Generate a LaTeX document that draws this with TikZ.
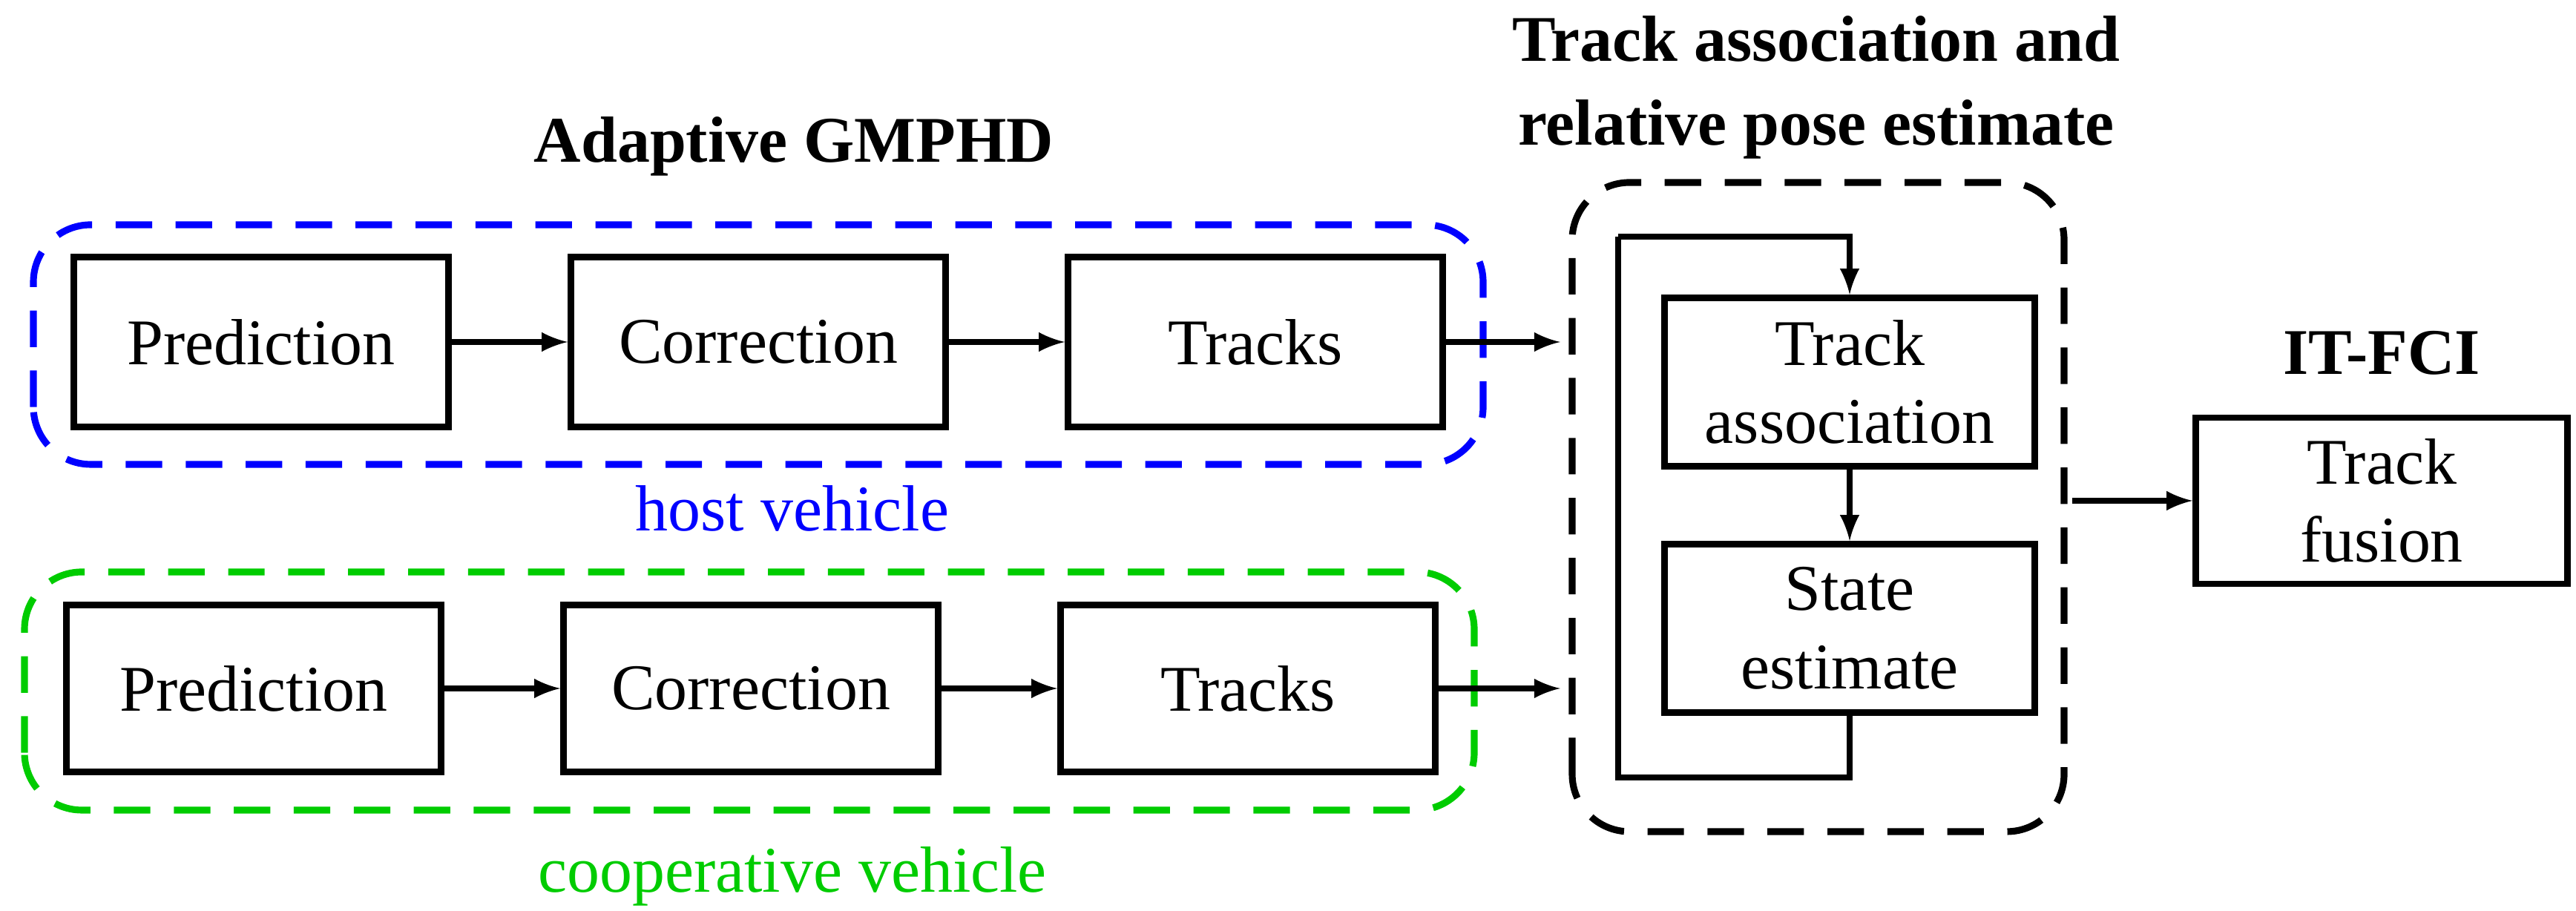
\documentclass[tikz,border=0pt]{standalone}
\usepackage{fontspec}
\setmainfont{Liberation Serif}
\usetikzlibrary{positioning}

\begin{document}
\begin{tikzpicture}[
	block/.style={draw, line width=2.4pt, font=\fontsize{25}{30}\selectfont, align=center, inner sep=0pt},
	flow/.style={line width=2.4pt, -latex},
	group/.style={line width=2.6pt, dash pattern=on 14pt off 9pt, rounded corners=22pt},
	title/.style={font=\fontsize{25}{32}\selectfont\bfseries, align=center}
	]
	
	\useasboundingbox (0,0) rectangle (34.72,12.28);
	
	% Groups
	\draw[group, blue]	(0.45,6.02) rectangle (19.99,9.25);
	\draw[group, green!80!black]	(0.33,1.36) rectangle (19.87,4.57);
	\draw[group]	(21.19,1.07) rectangle (27.82,9.82);
	
	% Host vehicle
	\node[block, minimum width=5.05cm, minimum height=2.29cm] (hpred) at (3.52,7.67) {Prediction};
	\node[block, minimum width=5.05cm, minimum height=2.29cm] (hcorr) at (10.22,7.67) {Correction};
	\node[block, minimum width=5.05cm, minimum height=2.29cm] (htrk) at (16.92,7.67) {Tracks};
	
	% Cooperative vehicle
	\node[block, minimum width=5.05cm, minimum height=2.25cm] (cpred) at (3.42,3.0) {Prediction};
	\node[block, minimum width=5.05cm, minimum height=2.25cm] (ccorr) at (10.12,3.0) {Correction};
	\node[block, minimum width=5.05cm, minimum height=2.25cm] (ctrk) at (16.82,3.0) {Tracks};
	
	% Association
	\node[block, minimum width=4.99cm, minimum height=2.27cm] (assoc) at (24.93,7.13) {Track\\association};
	\node[block, minimum width=4.99cm, minimum height=2.27cm] (state) at (24.93,3.81) {State\\estimate};
	\node[block, minimum width=5.01cm, minimum height=2.24cm] (fusion) at (32.1,5.53) {Track\\fusion};
	
	% Labels
	\node[title] (gmphd) at (10.7,10.31) {Adaptive GMPHD};
	\node[title] (tapose) at (24.48,11.1) {Track association and\\relative pose estimate};
	\node[title] (itfci) at (32.1,7.52) {IT-FCI};
	\node[font=\fontsize{25}{30}\selectfont, text=blue] (host) at (10.68,5.43) {host vehicle};
	\node[font=\fontsize{25}{30}\selectfont, text=green!80!black] (coop) at (10.68,0.47) {cooperative vehicle};
	
	% Coordinates
	\coordinate (hin) at (21.03,7.67);
	\coordinate (cin) at (21.03,3.0);
	\coordinate (ltop) at (21.81,9.09);
	\coordinate (lbot) at (21.81,1.80);
	\coordinate (outs) at (27.93,5.53);
	
	% Arrows
	\draw[flow] (hpred) -- (hcorr);
	\draw[flow] (hcorr) -- (htrk);
	\draw[flow] (htrk) -- (hin);
	\draw[flow] (cpred) -- (ccorr);
	\draw[flow] (ccorr) -- (ctrk);
	\draw[flow] (ctrk) -- (cin);
	\draw[flow] (assoc) -- (state);
	\draw[line width=2.4pt] (state.south) |- (lbot) -- (ltop);
	\draw[flow] (ltop) -| (assoc.north);
	\draw[flow] (outs) -- (fusion);
	
\end{tikzpicture}
\end{document}
